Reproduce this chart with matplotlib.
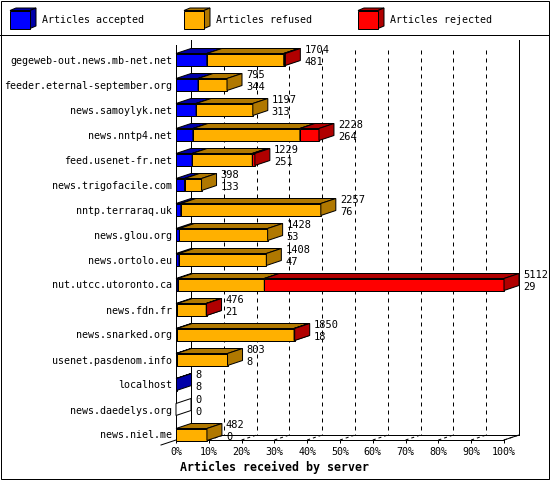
import matplotlib
matplotlib.use("Agg")
import matplotlib.pyplot as plt
from matplotlib.patches import Polygon, Rectangle

# ---------------- data ----------------
servers = [
    "gegeweb-out.news.mb-net.net",
    "feeder.eternal-september.org",
    "news.samoylyk.net",
    "news.nntp4.net",
    "feed.usenet-fr.net",
    "news.trigofacile.com",
    "nntp.terraraq.uk",
    "news.glou.org",
    "news.ortolo.eu",
    "nut.utcc.utoronto.ca",
    "news.fdn.fr",
    "news.snarked.org",
    "usenet.pasdenom.info",
    "localhost",
    "news.daedelys.org",
    "news.niel.me",
]
accepted = [481, 344, 313, 264, 251, 133, 76, 53, 47, 29, 21, 18, 8, 8, 0, 0]
refused = [1198, 451, 884, 1667, 938, 265, 2181, 1375, 1361, 1347, 450, 1822, 795, 0, 0, 482]
rejected = [25, 0, 0, 297, 40, 0, 0, 0, 0, 3736, 5, 10, 0, 0, 0, 0]

series_names = ["Articles accepted", "Articles refused", "Articles rejected"]
front_colors = ["#0000FF", "#FFB000", "#FF0000"]
dark_colors = ["#0000A8", "#B07800", "#B00000"]
xtick_values = [0, 10, 20, 30, 40, 50, 60, 70, 80, 90, 100]
xtick_labels = [f"{v}%" for v in xtick_values]
x_title = "Articles received by server"

# ---------------- layout ----------------
W, H, DPI = 550, 480, 100
FONT = "DejaVu Sans Mono"
FS = 7.2
LW = 0.72

fig = plt.figure(figsize=(W / DPI, H / DPI), dpi=DPI)
fig.patch.set_facecolor("white")

# overlay in pixel coordinates for frame and legend
ov = fig.add_axes([0, 0, 1, 1], zorder=0)
ov.set_xlim(0, W)
ov.set_ylim(H, 0)
ov.axis("off")
ov.add_patch(Rectangle((0.5, 0.5), W - 1.5, H - 1.5, fill=False, ec="black", lw=LW))
ov.plot([0, W], [35, 35], color="black", lw=LW)

leg_x = [10, 184, 358]
for lx, name, fc, dc in zip(leg_x, series_names, front_colors, dark_colors):
    ddx, ddy = 6, -2.5
    x0, y0, x1, y1 = lx, 10.5, lx + 20, 28.5
    ov.add_patch(Polygon([(x0, y0), (x0 + ddx, y0 + ddy), (x1 + ddx, y0 + ddy), (x1, y0)],
                         closed=True, fc=dc, ec="black", lw=LW))
    ov.add_patch(Polygon([(x1, y0), (x1 + ddx, y0 + ddy), (x1 + ddx, y1 + ddy), (x1, y1)],
                         closed=True, fc=dc, ec="black", lw=LW))
    ov.add_patch(Rectangle((x0, y0), x1 - x0, y1 - y0, fc=fc, ec="black", lw=LW))
    ov.text(lx + 32, 20, name, family=FONT, fontsize=FS, va="center", ha="left")

# main plot axes (front plane)
n = len(servers)
row_px = 25.0
ax_left, ax_right, ax_top, ax_bot = 176, 504, 45, 440
row0 = 59.5
ax = fig.add_axes([ax_left / W, (H - ax_bot) / H, (ax_right - ax_left) / W, (ax_bot - ax_top) / H],
                  zorder=1)
ax.patch.set_alpha(0)
ax.set_xlim(0, 100)
ybot = (ax_bot - row0) / row_px
ytop = (ax_top - row0) / row_px
ax.set_ylim(ybot, ytop)

px_x = 100.0 / (ax_right - ax_left)   # data units per pixel (x)
px_y = 1.0 / row_px                    # data units per pixel (y)
dx = 15 * px_x
dy = -5 * px_y
half = 6 * px_y

totals = [a + r + j for a, r, j in zip(accepted, refused, rejected)]
max_total = max(totals)

# back walls / grid
yback = ybot + dy
for k in xtick_values[1:-1]:
    ax.plot([k + dx, k + dx], [(50 - row0) / row_px, yback], color="black", lw=LW,
            dashes=(4, 4), clip_on=False, zorder=1)
ax.plot([dx, dx], [(40 - row0) / row_px, yback], color="black", lw=LW, clip_on=False, zorder=1)
ax.plot([100 + dx, 100 + dx], [(40 - row0) / row_px, yback], color="black", lw=LW,
        clip_on=False, zorder=1)
ax.plot([dx, 100 + dx], [yback, yback], color="black", lw=LW, clip_on=False, zorder=1)
ax.plot([100, 100 + dx], [ybot, yback], color="black", lw=LW, clip_on=False, zorder=1)
ax.plot([0, -dx], [ybot, ybot - dy], color="black", lw=LW, clip_on=False, zorder=1)
for k in xtick_values[1:]:
    ax.plot([k, k + dx], [ybot, yback], color="black", lw=LW, dashes=(3, 3),
            clip_on=False, zorder=1)

# bars
series = [accepted, refused, rejected]
for i in range(n):
    left = 0.0
    if totals[i] == 0:
        yt, yb = i - half, i + half
        ax.add_patch(Polygon([(0, yt), (dx, yt + dy), (dx, yb + dy), (0, yb)], closed=True,
                             fc="white", ec="black", lw=LW, clip_on=False, zorder=3))
    for s, vals in enumerate(series):
        v = vals[i]
        if v <= 0:
            continue
        w = v / max_total * 100
        yt, yb = i - half, i + half
        r = left + w
        ax.add_patch(Rectangle((left, yt), w, yb - yt, fc=front_colors[s], ec="black", lw=LW,
                               clip_on=False, zorder=3))
        ax.add_patch(Polygon([(left, yt), (left + dx, yt + dy), (r + dx, yt + dy), (r, yt)],
                             closed=True, fc=dark_colors[s], ec="black", lw=LW,
                             clip_on=False, zorder=3))
        ax.add_patch(Polygon([(r, yt), (r + dx, yt + dy), (r + dx, yb + dy), (r, yb)],
                             closed=True, fc=dark_colors[s], ec="black", lw=LW,
                             clip_on=False, zorder=3))
        left = r
    end = totals[i] / max_total * 100 + dx
    ax.annotate(str(totals[i]), xy=(end, i), xytext=(4, 9.5), textcoords="offset pixels",
                family=FONT, fontsize=FS + 0.3, va="center", ha="left", zorder=4,
                annotation_clip=False)
    ax.annotate(str(accepted[i]), xy=(end, i), xytext=(4, -2.5), textcoords="offset pixels",
                family=FONT, fontsize=FS + 0.3, va="center", ha="left", zorder=4,
                annotation_clip=False)

# axes styling
for sp in ["top", "right"]:
    ax.spines[sp].set_visible(False)
for sp in ["left", "bottom"]:
    ax.spines[sp].set_linewidth(LW)
    ax.spines[sp].set_zorder(2)
ax.set_yticks(range(n))
ax.set_yticklabels(servers, family=FONT, fontsize=FS)
ax.tick_params(axis="y", length=0, pad=2.9)
ax.set_xticks(xtick_values)
ax.set_xticklabels(xtick_labels, family=FONT, fontsize=FS)
ax.tick_params(axis="x", length=2.2, width=LW, direction="out", pad=2.9)

fig.text(180 / W, 1 - 467 / H, x_title, family=FONT, fontweight="bold", fontsize=8.4,
         ha="left", va="center")

fig.savefig("out.png", dpi=DPI, facecolor="white")
